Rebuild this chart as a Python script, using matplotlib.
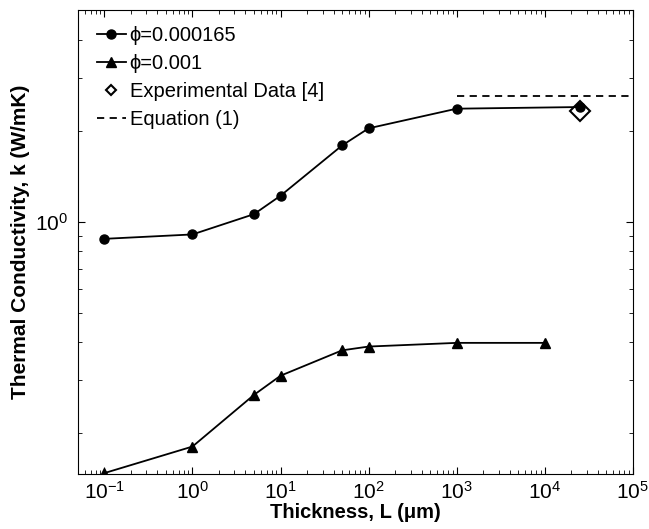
import numpy as np
import matplotlib
matplotlib.use("Agg")
import matplotlib.pyplot as plt
from matplotlib.ticker import NullFormatter, FixedLocator

plt.rcParams['font.family'] = ['Liberation Sans', 'DejaVu Sans']
plt.rcParams['font.size'] = 12

# data
L_phi1 = [0.1, 1, 5, 10, 50, 100, 1000, 25000]
k_phi1 = [0.878, 0.908, 1.06, 1.22, 1.79, 2.04, 2.37, 2.40]

L_phi2 = [0.1, 1, 5, 10, 50, 100, 1000, 10000]
k_phi2 = [0.147, 0.180, 0.267, 0.309, 0.375, 0.386, 0.397, 0.397]

L_exp = [25000]
k_exp = [2.33]

L_eq = [1000, 1e5]
k_eq = [2.61, 2.61]

x_major = [1e-1, 1e0, 1e1, 1e2, 1e3, 1e4, 1e5]
y_major = [1.0]
y_minor = [0.2, 0.3, 0.4, 0.5, 0.6, 0.7, 0.8, 0.9, 2, 3, 4]

fig = plt.figure(figsize=(6.49, 5.29), dpi=100)
ax = fig.add_axes([0.120, 0.104, 0.855, 0.877])

ax.plot(L_phi1, k_phi1, 'k-o', lw=1.3, ms=6.5, label='\u03d5=0.000165')
ax.plot(L_phi2, k_phi2, 'k-^', lw=1.3, ms=7.5, label='\u03d5=0.001')
ax.plot(L_exp, k_exp, 'kD', mfc='none', mew=1.5, ms=10, ls='none', label='Experimental Data [4]')
ax.plot(L_eq, k_eq, 'k--', lw=1.3, dashes=(4, 3), label='Equation (1)')

ax.set_xscale('log')
ax.set_yscale('log')
ax.set_xlim(0.05, 1e5)
ax.set_ylim(0.146, 5.03)

x_minor = [m * d for d in [0.01, 0.1, 1, 10, 100, 1000, 10000] for m in range(2, 10)]
ax.xaxis.set_major_locator(FixedLocator(x_major))
ax.xaxis.set_minor_locator(FixedLocator([v for v in x_minor if 0.05 <= v <= 1e5]))
ax.xaxis.set_minor_formatter(NullFormatter())
ax.yaxis.set_major_locator(FixedLocator(y_major))
ax.yaxis.set_minor_locator(FixedLocator(y_minor))
ax.yaxis.set_minor_formatter(NullFormatter())

ax.tick_params(which='both', direction='in', top=True, right=True, labelsize=15)
ax.tick_params(which='major', length=5)
ax.tick_params(which='minor', length=3)
ax.tick_params(axis='x', pad=5)
ax.tick_params(axis='y', pad=7)

ax.set_xlabel('Thickness, L (\u03bcm)', fontsize=14.5, fontweight='bold', labelpad=0)
ax.set_ylabel('Thermal Conductivity, k (W/mK)', fontsize=15, fontweight='bold', labelpad=4)

leg = ax.legend(loc='upper left', bbox_to_anchor=(0.006, 1.0), frameon=False,
                fontsize=14.5, handlelength=1.4, handletextpad=0.2,
                labelspacing=0.45, borderaxespad=0.4)
leg.legend_handles[2].set_markersize(5)

fig.savefig('out.png', dpi=100)
